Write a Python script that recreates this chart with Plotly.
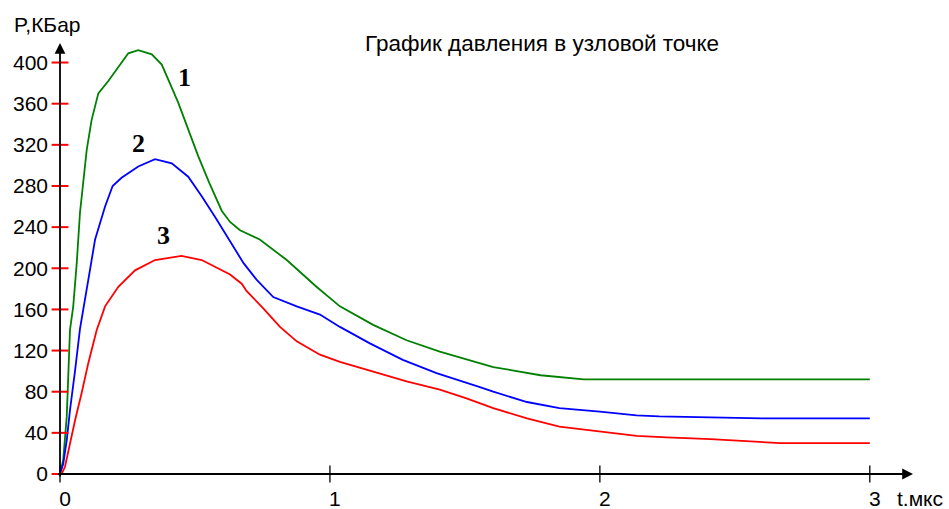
import plotly.graph_objects as go

# ---- data ----
t1 = [0, 0.012, 0.025, 0.031, 0.037, 0.049, 0.062, 0.074, 0.088, 0.099, 0.117, 0.142, 0.179,
      0.216, 0.253, 0.29, 0.34, 0.377, 0.407, 0.438, 0.475, 0.512, 0.553, 0.599, 0.63, 0.667,
      0.74, 0.84, 0.95, 1.037, 1.16, 1.284, 1.407, 1.55, 1.605, 1.78, 1.94, 2.1, 2.5, 3.0]
p1 = [0, 14, 56, 101, 140, 163, 205, 254, 286, 315, 344, 370, 382,
      396, 409, 412, 408, 398, 380, 361, 335, 309, 283, 256, 245, 237,
      228, 208, 182, 163, 145, 130, 119, 108, 104, 96, 92, 92, 92, 92]

t2 = [0, 0.012, 0.025, 0.037, 0.056, 0.074, 0.105, 0.13, 0.167, 0.195, 0.228, 0.29, 0.352,
      0.414, 0.475, 0.525, 0.574, 0.636, 0.68, 0.728, 0.79, 0.877, 0.963, 1.037, 1.148, 1.27,
      1.395, 1.55, 1.605, 1.73, 1.85, 2.0, 2.136, 2.22, 2.4, 2.6, 3.0]
p2 = [0, 10, 33, 62, 101, 141, 189, 228, 260, 280, 288, 299, 306,
      302, 289, 270, 250, 224, 205, 189, 172, 163, 155, 143, 127, 111,
      98, 85, 80, 70, 64, 60.6, 57, 56, 55, 54, 54]

t3 = [0, 0.006, 0.0185, 0.037, 0.056, 0.08, 0.105, 0.136, 0.167, 0.216, 0.278, 0.352, 0.45,
      0.525, 0.6, 0.63, 0.673, 0.691, 0.753, 0.815, 0.877, 0.963, 1.037, 1.16, 1.284, 1.407,
      1.506, 1.605, 1.73, 1.85, 2.0, 2.136, 2.247, 2.41, 2.667, 3.0]
p3 = [0, 0, 7, 30, 52.5, 78.5, 108, 140, 163, 182, 198, 208, 212,
      208, 198, 194, 185, 178, 161, 143, 129, 116, 109, 99.5, 90, 82,
      73.6, 64, 54, 46, 41, 37, 35.7, 34, 30, 30]

y_ticks = [0, 40, 80, 120, 160, 200, 240, 280, 320, 360, 400]
x_ticks = [0, 1, 2, 3]
x_tick_labels = ["0", "1", "2", "3"]
curve_names = ["1", "2", "3"]

title_text = "График давления в узловой точке"
y_title = "P,КБар"
x_title = "t.мкс"

X_MAX = 3.16
Y_MAX = 419

fig = go.Figure()

colors = ["#008000", "#0000FF", "#FF0000"]
for tt, pp, c, n in zip([t1, t2, t3], [p1, p2, p3], colors, curve_names):
    fig.add_trace(go.Scatter(x=tt, y=pp, mode="lines", name=n,
                             line=dict(color=c, width=1.8), cliponaxis=False,
                             hoverinfo="x+y"))

# red y ticks crossing the axis
fig.add_trace(go.Scatter(x=[0] * len(y_ticks), y=y_ticks, mode="markers",
                         marker=dict(symbol="line-ew", size=12,
                                     line=dict(color="#FF0000", width=2)),
                         cliponaxis=False, hoverinfo="skip"))
# black x ticks crossing the axis
fig.add_trace(go.Scatter(x=x_ticks, y=[0] * len(x_ticks), mode="markers",
                         marker=dict(symbol="line-ns", size=12,
                                     line=dict(color="#000000", width=1.3)),
                         cliponaxis=False, hoverinfo="skip"))

annotations = []
# axes with arrowheads
annotations.append(dict(x=X_MAX, y=0, ax=-0.012, ay=0, xref="x", yref="y", axref="x", ayref="y",
                        text="", showarrow=True, arrowhead=2, arrowsize=1.2, arrowwidth=1.8,
                        arrowcolor="#000000"))
annotations.append(dict(x=0, y=Y_MAX, ax=0, ay=-4, xref="x", yref="y", axref="x", ayref="y",
                        text="", showarrow=True, arrowhead=2, arrowsize=1.2, arrowwidth=1.8,
                        arrowcolor="#000000"))

label_font = dict(family="Liberation Sans, Arial, sans-serif", size=21, color="#000000")
title_font = dict(family="Liberation Sans, Arial, sans-serif", size=22.5, color="#000000")
annotations.append(dict(x=0.565, y=0.998, xref="paper", yref="paper", text=title_text,
                        showarrow=False, xanchor="center", yanchor="middle", font=title_font))
annotations.append(dict(x=-0.0563, y=1.042, xref="paper", yref="paper", text=y_title,
                        showarrow=False, xanchor="left", yanchor="middle", font=label_font))
annotations.append(dict(x=0.979, y=-0.056, xref="paper", yref="paper", text=x_title,
                        showarrow=False, xanchor="left", yanchor="middle", font=label_font))

curve_font = dict(family="Liberation Serif, Times New Roman, serif", size=26, color="#000000")
label_pos = [(0.463, 385), (0.291, 321.5), (0.383, 231.5)]
for (lx, ly), n in zip(label_pos, curve_names):
    annotations.append(dict(x=lx, y=ly, xref="x", yref="y", text="<b>" + n + "</b>",
                            showarrow=False, xanchor="center", yanchor="middle", font=curve_font))

fig.update_layout(
    width=949, height=509,
    margin=dict(l=60, r=36, t=43, b=35),
    paper_bgcolor="white", plot_bgcolor="white",
    showlegend=False,
    annotations=annotations,
    font=label_font,
    xaxis=dict(range=[0, X_MAX], tickvals=x_ticks, ticktext=x_tick_labels,
               showgrid=False, zeroline=False, showline=False, ticks="",
               ticklabelstandoff=10, ticklabelshift=5, automargin=False,
               tickfont=label_font, fixedrange=True),
    yaxis=dict(range=[0, Y_MAX], tickvals=y_ticks,
               showgrid=False, zeroline=False, showline=False, ticks="",
               ticklabelstandoff=11, automargin=False,
               tickfont=label_font, fixedrange=True),
)

fig.write_html("out.html", config={"displayModeBar": False},
               post_script="document.body.style.margin='0';document.body.style.overflow='hidden';")
